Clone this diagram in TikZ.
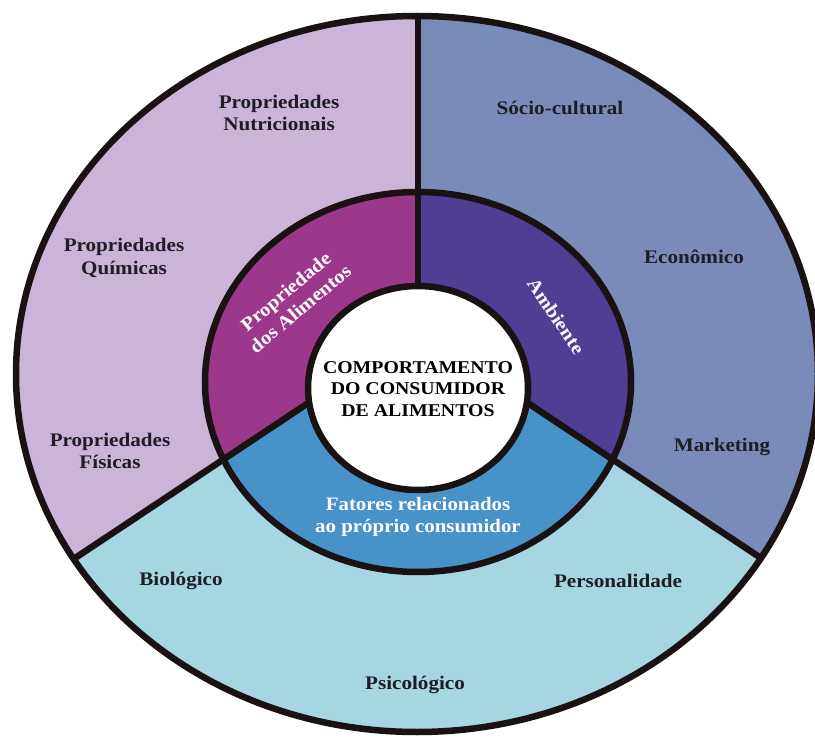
\documentclass[tikz,border=0pt]{standalone}
\usepackage{fontspec}
\setmainfont{Liberation Serif}[FakeStretch=1.1]
\definecolor{outerL}{RGB}{202,180,216}
\definecolor{outerR}{RGB}{122,138,185}
\definecolor{outerB}{RGB}{167,214,227}
\definecolor{midL}{RGB}{156,56,140}
\definecolor{midR}{RGB}{80,62,148}
\definecolor{midB}{RGB}{72,146,202}
\definecolor{linec}{RGB}{26,18,18}
\definecolor{labelc}{RGB}{30,28,36}
\tikzset{
  sep/.style={draw=linec, line width=6.5pt},
  outerlabel/.style={font=\bfseries\fontsize{19.2}{22.5}\selectfont, text=labelc, align=center, inner sep=0pt},
  innerlabel/.style={font=\bfseries\fontsize{19}{22.5}\selectfont, text=white, align=center, inner sep=0pt},
  corelabel/.style={font=\bfseries\fontsize{18}{21.5}\selectfont, text=black, align=center, inner sep=0pt}
}
\begin{document}
\begin{tikzpicture}[x=1pt,y=-1pt]
\useasboundingbox (0,0) rectangle (815,749);
% meeting point of the three dividers and their far ends
\coordinate (P) at (418,330);
\coordinate (Top) at (418,-1000);
\coordinate (FL) at (-600,1007);
\coordinate (FR) at (1436,1007);
\begin{scope}
  \clip (417,374) ellipse [x radius=401, y radius=358];
  % outer ring sectors
  \fill[outerL] (P) -- (Top) -- (-600,-1000) -- (FL) -- cycle;
  \fill[outerR] (P) -- (Top) -- (1436,-1000) -- (FR) -- cycle;
  \fill[outerB] (P) -- (FL) -- (-600,1500) -- (1436,1500) -- (FR) -- cycle;
  % middle ring sectors
  \begin{scope}
    \clip (418,382) ellipse [x radius=213, y radius=190];
    \fill[midL] (P) -- (Top) -- (-600,-1000) -- (FL) -- cycle;
    \fill[midR] (P) -- (Top) -- (1436,-1000) -- (FR) -- cycle;
    \fill[midB] (P) -- (FL) -- (-600,1500) -- (1436,1500) -- (FR) -- cycle;
  \end{scope}
  % dividers
  \draw[sep] (P) -- (Top);
  \draw[sep] (P) -- (FL);
  \draw[sep] (P) -- (FR);
\end{scope}
% rings
\draw[sep, fill=white] (418,388) ellipse [x radius=110, y radius=102];
\draw[sep] (418,382) ellipse [x radius=213, y radius=190];
\draw[sep] (417,374) ellipse [x radius=401, y radius=358];

% centre
\node[corelabel] (core) at (418,389) {COMPORTAMENTO\\DO CONSUMIDOR\\DE ALIMENTOS};
% middle ring
\node[innerlabel, rotate=40] (food) at (293,300) {Propriedade\\dos Alimentos};
\node[innerlabel, rotate=-56] (env) at (556,316) {Ambiente};
\node[innerlabel] (self) at (418,517) {Fatores relacionados\\ao próprio consumidor};
% outer ring
\node[outerlabel] (nutr) at (279,113) {Propriedades\\Nutricionais};
\node[outerlabel] (quim) at (124,258) {Propriedades\\Químicas};
\node[outerlabel] (fis) at (110,451) {Propriedades\\Físicas};
\node[outerlabel] (soc) at (560,108) {Sócio-cultural};
\node[outerlabel] (eco) at (694,257) {Econômico};
\node[outerlabel] (mkt) at (722,447) {Marketing};
\node[outerlabel] (bio) at (181,581) {Biológico};
\node[outerlabel] (pers) at (618,581) {Personalidade};
\node[outerlabel] (psi) at (415,685) {Psicológico};
\end{tikzpicture}
\end{document}
